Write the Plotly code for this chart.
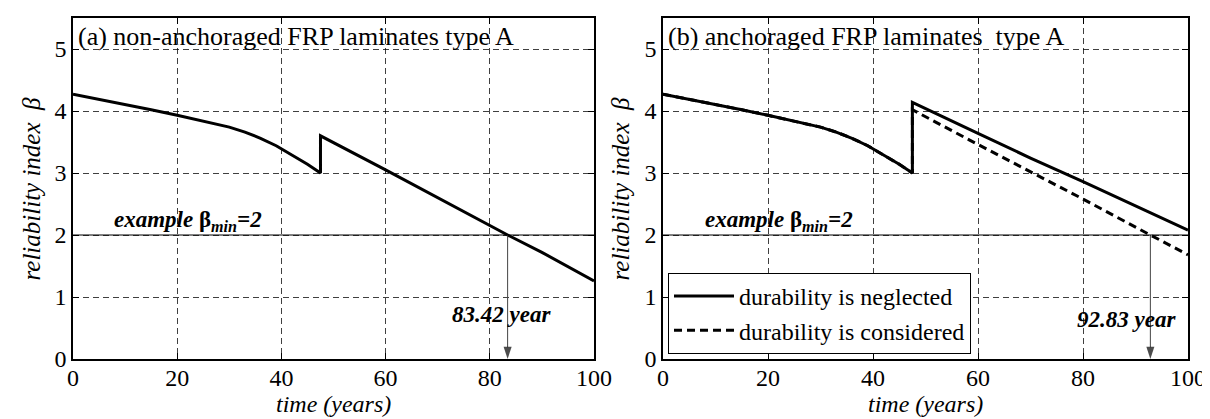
import plotly.graph_objects as go
from plotly.subplots import make_subplots

# ---------------- data ----------------
t_pre = [0, 5, 10, 15, 20, 25, 30, 33, 36, 39, 42, 45, 47.5]
beta_pre = [4.27, 4.19, 4.11, 4.02, 3.93, 3.84, 3.74, 3.66, 3.56, 3.44, 3.29, 3.14, 3.0]

t_post_a = [47.5, 60, 70, 83.42, 90, 100]
beta_post_a = [3.60, 3.05, 2.60, 2.0, 1.72, 1.26]

t_post_b_neg = [47.5, 60, 70, 80, 90, 100]
beta_post_b_neg = [4.14, 3.64, 3.24, 2.86, 2.47, 2.08]

t_post_b_con = [47.5, 60, 70, 80, 92.83, 100]
beta_post_b_con = [4.02, 3.46, 3.02, 2.58, 2.0, 1.68]

beta_min = 2
t_cross_a = 83.42
t_cross_b = 92.83

x_ticks = [0, 20, 40, 60, 80, 100]
y_ticks = [0, 1, 2, 3, 4, 5]

title_a = "(a) non-anchoraged FRP laminates type A"
title_b = "(b) anchoraged FRP laminates\u00a0 type A"
legend_names = ["durability is neglected", "durability is considered"]

# ---------------- figure ----------------
W, H = 1210, 419
FONT = "Liberation Serif, Times New Roman, Times, serif"

fig = make_subplots(rows=1, cols=2)

# (a)
fig.add_trace(go.Scatter(x=t_pre + t_post_a, y=beta_pre + beta_post_a, mode="lines",
                         line=dict(color="black", width=3), showlegend=False), row=1, col=1)
# (b) durability considered (dashed)
fig.add_trace(go.Scatter(x=t_pre + t_post_b_con, y=beta_pre + beta_post_b_con, mode="lines",
                         line=dict(color="black", width=3, dash="8px,5px"),
                         name=legend_names[1], showlegend=False), row=1, col=2)
# (b) durability neglected (solid)
fig.add_trace(go.Scatter(x=t_pre + t_post_b_neg, y=beta_pre + beta_post_b_neg, mode="lines",
                         line=dict(color="black", width=3),
                         name=legend_names[0], showlegend=True), row=1, col=2)
# legend entry for dashed line
fig.add_trace(go.Scatter(x=[None], y=[None], mode="lines",
                         line=dict(color="black", width=3, dash="8px,5px"),
                         name=legend_names[1], showlegend=True), row=1, col=2)

# arrows from the beta_min crossing down to the time axis
for col, tc in [(1, t_cross_a), (2, t_cross_b)]:
    fig.add_trace(go.Scatter(x=[tc, tc], y=[beta_min, 0], mode="lines+markers",
                             line=dict(color="#444444", width=1),
                             marker=dict(symbol=["circle", "arrow"], size=[0, 13],
                                         angleref="previous", color="black",
                                         line=dict(width=0)),
                             showlegend=False, hoverinfo="skip"), row=1, col=col)

x_dom_a = [65 / W, 586 / W]
x_dom_b = [655 / W, 1180 / W]
y_dom = [1 - 351 / H, 1 - 10 / H]

axis_common = dict(
    showline=True, linecolor="black", linewidth=1.5, mirror="allticks",
    ticks="inside", ticklen=6, tickcolor="black", tickwidth=1,
    showgrid=True, gridcolor="rgba(0,0,0,0.75)", gridwidth=1, griddash="6px,4px",
    zeroline=False, automargin=False,
    tickfont=dict(family=FONT, size=24, color="black"),
)

fig.update_xaxes(range=[0, 100], tickvals=x_ticks, ticklabelstandoff=-4, **axis_common)
fig.update_yaxes(range=[0, 5.5], tickvals=y_ticks, **axis_common)
fig.update_layout(
    xaxis=dict(domain=x_dom_a), xaxis2=dict(domain=x_dom_b),
    yaxis=dict(domain=y_dom), yaxis2=dict(domain=y_dom),
)

annotations = []
shapes = []
for i, (xr, yr, title, tcross, ylab) in enumerate([
        ("x", "y", title_a, t_cross_a, 0.72),
        ("x2", "y2", title_b, t_cross_b, 0.64)]):
    xd = xr + " domain"
    yd = yr + " domain"
    # panel title
    annotations.append(dict(text=title, xref=xd, yref=yd, x=0.006, y=0.945,
                            xanchor="left", yanchor="middle", showarrow=False,
                            font=dict(family=FONT, size=26, color="black")))
    # beta_min line
    shapes.append(dict(type="line", xref=xd, yref=yr, x0=0, x1=1, y0=beta_min, y1=beta_min,
                       line=dict(color="black", width=1)))
    # beta_min label
    annotations.append(dict(text="<b><i>example </i>β<sub><i>min</i></sub><i>=2</i></b>",
                            xref=xr, yref=yr, x=22, y=beta_min + 0.22,
                            xanchor="center", yanchor="middle", showarrow=False,
                            font=dict(family=FONT, size=23, color="black")))
    # crossing label
    annotations.append(dict(text="<b><i>%.2f year</i></b>" % tcross,
                            xref=xr, yref=yr, x=tcross - (1.1 if i == 0 else 4.5), y=ylab,
                            xanchor="center", yanchor="middle", showarrow=False,
                            font=dict(family=FONT, size=23, color="black")))
    # x axis title
    annotations.append(dict(text="<i>time (years)</i>", xref=xd, yref="paper",
                            x=0.5, y=1 - 396 / H, xanchor="center", yanchor="middle",
                            showarrow=False, font=dict(family=FONT, size=24, color="black")))
    # y axis title
    annotations.append(dict(text="<i>reliability index\u00a0 β</i>", xref="paper", yref=yd,
                            x=(23 if i == 0 else 612) / W, y=0.5, xanchor="center",
                            yanchor="middle", textangle=-90, showarrow=False,
                            font=dict(family=FONT, size=25, color="black")))

fig.update_layout(
    width=W, height=H,
    margin=dict(l=0, r=0, t=0, b=0),
    paper_bgcolor="white", plot_bgcolor="white",
    font=dict(family=FONT, color="black"),
    annotations=annotations, shapes=shapes,
    legend=dict(x=660 / W, y=1 - 346 / H, xanchor="left", yanchor="bottom",
                bgcolor="white", bordercolor="black", borderwidth=1,
                font=dict(family=FONT, size=24, color="black"),
                itemwidth=60, tracegroupgap=0),
)

fig.write_html("out.html")
